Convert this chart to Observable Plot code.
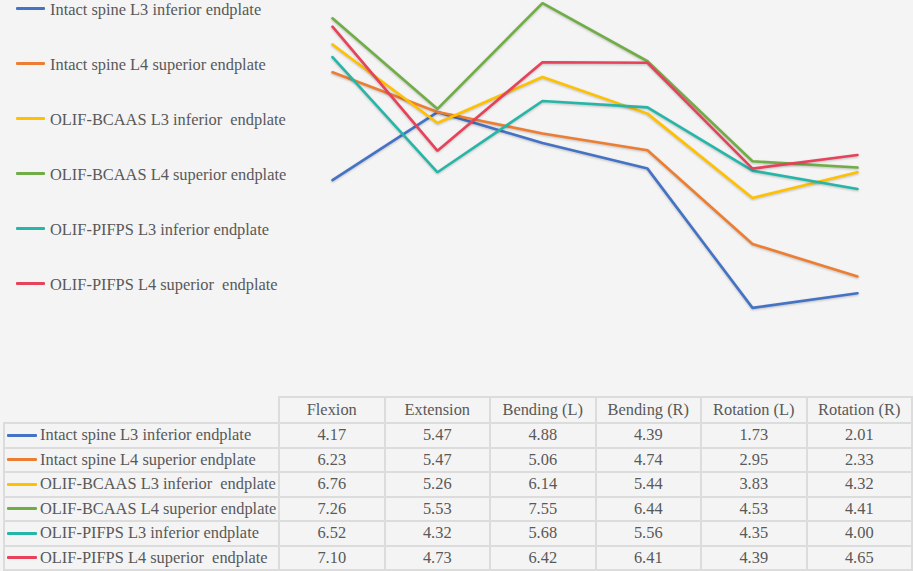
<!DOCTYPE html>
<html>
<head>
<meta charset="utf-8">
<script src="https://cdn.jsdelivr.net/npm/d3@7"></script>
<script src="https://cdn.jsdelivr.net/npm/@observablehq/plot@0.6"></script>
<style>
  html, body { margin: 0; padding: 0; background: #f4f4f4; }
  #wrap { position: relative; width: 913px; height: 571px; background: #f4f4f4; overflow: hidden;
          font-family: "Liberation Serif", "Tinos", "Times New Roman", serif; color: #595959; }
  #chart { position: absolute; left: 0; top: 0; }
  #chart svg path { filter: drop-shadow(0px 1.5px 1px rgba(0,0,0,0.22)); }
  .leg { position: absolute; left: 16px; height: 20px; display: flex; align-items: center; white-space: pre; font-size: 16.4px;
         font-family: "Liberation Serif", "Tinos", "Times New Roman", serif; }
  .sw { display: inline-block; width: 29px; height: 3px; margin-right: 5px; border-radius: 1px; }
  .leg .sw { position: relative; top: -1.5px; }
  table { position: absolute; left: 3px; top: 396px; border-collapse: collapse; table-layout: fixed;
          font-size: 16.4px; color: #595959; font-family: "Liberation Serif", "Tinos", "Times New Roman", serif; }
  td, th { border: 2px solid #dcdcdc; padding: 0; text-align: center; font-weight: normal; white-space: pre; overflow: visible; }
  th { height: 24px; }
  td { height: 22.5px; }
  td.name { text-align: left; padding-left: 2px; }
  th.blank { border-top: none; border-left: none; }
  td.name .sw { width: 30px; margin-right: 3px; vertical-align: middle; position: relative; top: -1px; }
</style>
</head>
<body>
<div id="wrap">
  <div id="chart"></div>
  <div id="legend"></div>
  <table id="tbl"></table>
</div>
<script>
const categories = ["Flexion", "Extension", "Bending (L)", "Bending (R)", "Rotation (L)", "Rotation (R)"];
const seriesNames = [
  "Intact spine L3 inferior endplate",
  "Intact spine L4 superior endplate",
  "OLIF-BCAAS L3 inferior  endplate",
  "OLIF-BCAAS L4 superior endplate",
  "OLIF-PIFPS L3 inferior endplate",
  "OLIF-PIFPS L4 superior  endplate"
];
const intactL3 = [4.17, 5.47, 4.88, 4.39, 1.73, 2.01];
const intactL4 = [6.23, 5.47, 5.06, 4.74, 2.95, 2.33];
const bcaasL3  = [6.76, 5.26, 6.14, 5.44, 3.83, 4.32];
const bcaasL4  = [7.26, 5.53, 7.55, 6.44, 4.53, 4.41];
const pifpsL3  = [6.52, 4.32, 5.68, 5.56, 4.35, 4.00];
const pifpsL4  = [7.10, 4.73, 6.42, 6.41, 4.39, 4.65];
const seriesValues = [intactL3, intactL4, bcaasL3, bcaasL4, pifpsL3, pifpsL4];
const colors = ["#4472c4", "#ed7d31", "#ffc000", "#70ad47", "#26b6a8", "#e8415a"];

const data = [];
seriesNames.forEach((s, i) => categories.forEach((c, j) => data.push({series: s, category: c, value: seriesValues[i][j]})));

const chart = Plot.plot({
  width: 913,
  height: 398,
  margin: 0,
  style: {background: "transparent", overflow: "visible"},
  x: {type: "point", domain: categories, range: [330.75, 858.25], padding: 0, axis: null},
  y: {domain: [0, 7.6], range: [398, 0], axis: null},
  color: {domain: seriesNames, range: colors},
  marks: [
    Plot.line(data, {x: "category", y: "value", z: "series", stroke: "series", strokeWidth: 2.6, strokeLinejoin: "miter", curve: "linear"})
  ]
});
document.getElementById("chart").appendChild(chart);

// legend
const legend = document.getElementById("legend");
const legendTops = [-0.5, 54.5, 109.5, 164.5, 219.5, 274.5];
seriesNames.forEach((s, i) => {
  const d = document.createElement("div");
  d.className = "leg";
  d.style.top = legendTops[i] + "px";
  d.innerHTML = `<span class="sw" style="background:${colors[i]}"></span>${s}`;
  legend.appendChild(d);
});

// table
const tbl = document.getElementById("tbl");
const colg = document.createElement("colgroup");
colg.innerHTML = `<col style="width:275px">` + categories.map(() => `<col style="width:105.5px">`).join("");
tbl.appendChild(colg);
const hr = document.createElement("tr");
hr.innerHTML = `<th class="blank"></th>` + categories.map(c => `<th>${c}</th>`).join("");
tbl.appendChild(hr);
seriesNames.forEach((s, i) => {
  const tr = document.createElement("tr");
  tr.innerHTML = `<td class="name"><span class="sw" style="background:${colors[i]}"></span>${s}</td>` +
    seriesValues[i].map(v => `<td>${v.toFixed(2)}</td>`).join("");
  tbl.appendChild(tr);
});
</script>
</body>
</html>
